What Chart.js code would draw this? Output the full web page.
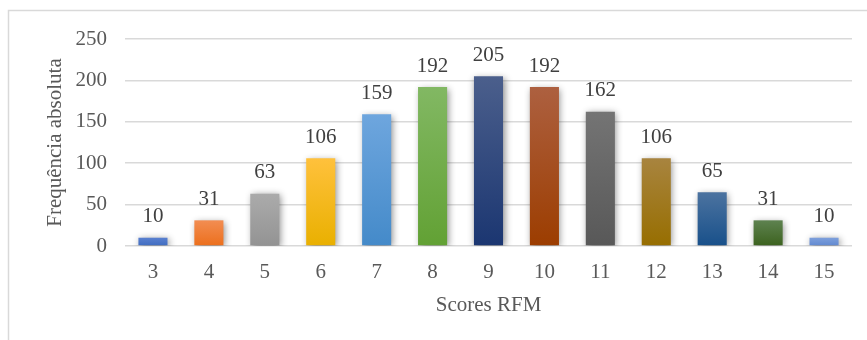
<!DOCTYPE html>
<html>
<head>
<meta charset="utf-8">
<script src="https://cdn.jsdelivr.net/npm/chart.js@4"></script>
<style>
  html, body { margin: 0; padding: 0; background: #ffffff; }
  #wrap { width: 867px; height: 340px; position: relative; }
</style>
</head>
<body>
<div id="wrap"><canvas id="c" width="867" height="340"></canvas></div>
<script>
// RFM score categories and the number of customers in each
const scores = ['3', '4', '5', '6', '7', '8', '9', '10', '11', '12', '13', '14', '15'];
const frequencies = [10, 31, 63, 106, 159, 192, 205, 192, 162, 106, 65, 31, 10];
const yTicks = [0, 50, 100, 150, 200, 250];

// Per-bar gradient colours (top, bottom)
const barTop = ['#5a80d0', '#f28d52', '#ababab', '#ffc13c', '#6ea6de', '#82b863', '#4b5f8c',
                '#ad6040', '#747474', '#a8843f', '#4c73a0', '#5e8250', '#7ea0dc'];
const barBottom = ['#3f6cc0', '#ec6f1c', '#939393', '#e9b000', '#448ac9', '#62a134', '#1b3671',
                   '#9c3d00', '#585858', '#976e00', '#18508a', '#3c621e', '#6088d0'];

const FONT = "'Liberation Serif', 'Times New Roman', serif";

function barGradient(ctx) {
  const chart = ctx.chart;
  const i = ctx.dataIndex;
  if (!chart.chartArea || !chart.scales.y) return barBottom[i];
  const y = chart.scales.y;
  const top = y.getPixelForValue(frequencies[i]);
  const base = y.getPixelForValue(0);
  if (!isFinite(top) || !isFinite(base) || base - top < 1) return barBottom[i];
  const g = chart.ctx.createLinearGradient(0, top, 0, base);
  g.addColorStop(0, barTop[i]);
  g.addColorStop(1, barBottom[i]);
  return g;
}

// Soft drop shadow under the bars
const barShadow = {
  id: 'barShadow',
  beforeDatasetsDraw(chart) {
    const c = chart.ctx;
    c.save();
    c.shadowColor = 'rgba(0,0,0,0.45)';
    c.shadowBlur = 7;
    c.shadowOffsetX = 1.5;
    c.shadowOffsetY = 1.5;
  },
  afterDatasetsDraw(chart) {
    chart.ctx.restore();
  }
};

// Value labels above each bar
const valueLabels = {
  id: 'valueLabels',
  afterDatasetsDraw(chart) {
    const c = chart.ctx;
    const meta = chart.getDatasetMeta(0);
    c.save();
    c.font = '21px ' + FONT;
    c.fillStyle = '#404040';
    c.textAlign = 'center';
    c.textBaseline = 'alphabetic';
    meta.data.forEach((bar, i) => {
      c.fillText(String(frequencies[i]), bar.x, bar.y - 15.5);
    });
    c.restore();
  }
};

// Light frame around the chart
const frame = {
  id: 'frame',
  beforeDraw(chart) {
    const c = chart.ctx;
    c.save();
    c.fillStyle = '#ffffff';
    c.fillRect(0, 0, chart.width, chart.height);
    c.strokeStyle = '#d9d9d9';
    c.lineWidth = 1.5;
    c.beginPath();
    c.moveTo(8.5, chart.height);
    c.lineTo(8.5, 10.5);
    c.lineTo(chart.width, 10.5);
    c.stroke();
    c.restore();
  }
};

new Chart(document.getElementById('c'), {
  type: 'bar',
  data: {
    labels: scores,
    datasets: [{
      data: frequencies,
      backgroundColor: barGradient,
      borderWidth: 0,
      barPercentage: 1,
      categoryPercentage: 0.52
    }]
  },
  options: {
    responsive: false,
    animation: false,
    devicePixelRatio: 1,
    layout: { padding: { top: 39, right: 15, bottom: 0, left: 0 } },
    plugins: { legend: { display: false }, tooltip: { enabled: false } },
    scales: {
      x: {
        grid: { display: false, drawTicks: false },
        border: { display: false },
        ticks: { color: '#595959', font: { family: FONT, size: 21 }, padding: 14 },
        title: {
          display: true, text: 'Scores RFM', color: '#595959',
          font: { family: FONT, size: 21 }, padding: { top: 0, bottom: 22.4 }
        },
        afterFit(scale) { scale.height = 94; }
      },
      y: {
        min: 0, max: 250,
        afterBuildTicks(scale) { scale.ticks = yTicks.map(v => ({ value: v })); },
        grid: { color: '#d9d9d9', lineWidth: 1.5, drawTicks: false },
        border: { display: false },
        ticks: { color: '#595959', font: { family: FONT, size: 21 }, padding: 18 },
        title: {
          display: true, text: 'Frequência absoluta', color: '#595959',
          font: { family: FONT, size: 21 }, padding: { top: 42.4, bottom: 0 }
        },
        afterFit(scale) { scale.width = 125; }
      }
    }
  },
  plugins: [frame, barShadow, valueLabels]
});
</script>
</body>
</html>
